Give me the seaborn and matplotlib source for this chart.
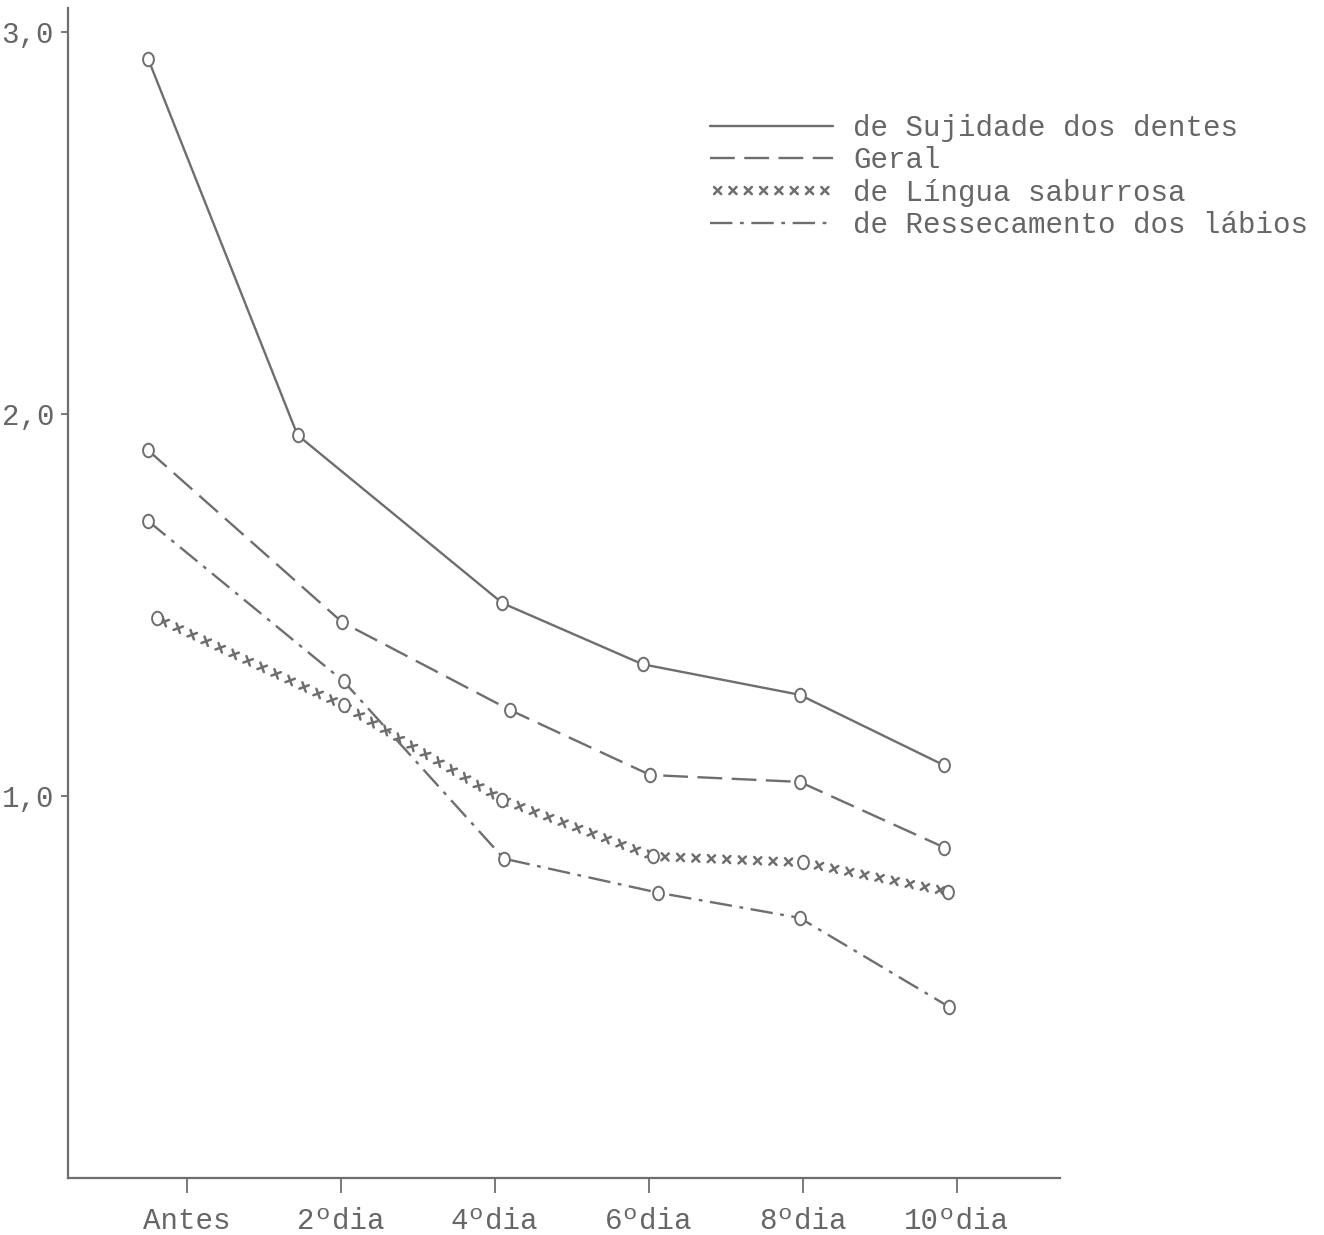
import matplotlib
matplotlib.use("Agg")
import matplotlib.pyplot as plt
import matplotlib.patheffects as pe
from matplotlib.path import Path
import numpy as np
import seaborn as sns

# ---------------- data ----------------
categories = ["Antes", "2ºdia", "4ºdia", "6ºdia", "8ºdia", "10ºdia"]
tick_pos = [0, 1, 2, 3, 4, 5]

x_sujidade = [-0.25, 0.72, 2.05, 2.96, 3.98, 4.92]
y_sujidade = [2.93, 1.945, 1.505, 1.345, 1.265, 1.08]

x_geral = [-0.25, 1.01, 2.10, 3.01, 3.98, 4.92]
y_geral = [1.905, 1.455, 1.225, 1.055, 1.037, 0.865]

x_lingua = [-0.19, 1.02, 2.05, 3.03, 4.00, 4.94]
y_lingua = [1.465, 1.237, 0.99, 0.842, 0.826, 0.75]

x_labios = [-0.25, 1.02, 2.06, 3.06, 3.98, 4.95]
y_labios = [1.72, 1.30, 0.836, 0.747, 0.681, 0.448]

series_labels = ["de Sujidade dos dentes", "Geral",
                 "de Língua saburrosa", "de Ressecamento dos lábios"]

yticks = [1, 2, 3]
ytick_labels = ["1,0", "2,0", "3,0"]

# ---------------- style ----------------
sns.set_style("ticks")
plt.rcParams["font.family"] = ["Liberation Mono", "DejaVu Sans Mono"]
GREY = "#6e6e6e"
TXT = "#666666"
FS = 21

fig = plt.figure(figsize=(13.24, 12.35), dpi=100)
ax = fig.add_axes([68 / 1324, 1 - 1178 / 1235, (1060 - 68) / 1324, (1178 - 8) / 1235])

LW = 1.7

# Sujidade (solid)
sns.lineplot(x=x_sujidade, y=y_sujidade, sort=False, estimator=None, ax=ax,
             color=GREY, linewidth=LW, linestyle="-", label=series_labels[0])
# Geral (dashed)
sns.lineplot(x=x_geral, y=y_geral, sort=False, estimator=None, ax=ax,
             color=GREY, linewidth=LW, linestyle=(0, (10.5, 4)), label=series_labels[1])
# Lingua (crosses along path)
cross = [pe.TickedStroke(spacing=11, angle=a, length=0.33) for a in (45, 135, -45, -135)]
sns.lineplot(x=x_lingua, y=y_lingua, sort=False, estimator=None, ax=ax,
             color=GREY, linewidth=1.8, linestyle="-", label=series_labels[2],
             path_effects=cross)
# Labios (dash-dot)
sns.lineplot(x=x_labios, y=y_labios, sort=False, estimator=None, ax=ax,
             color=GREY, linewidth=LW, linestyle=(0, (9.5, 3.2, 1.6, 3.2)),
             label=series_labels[3])

# typewriter "O" point markers (slightly tall ellipse)
uc = Path.unit_circle()
o_marker = Path(uc.vertices * np.array([0.8, 1.0]), uc.codes)
for xs, ys in [(x_sujidade, y_sujidade), (x_geral, y_geral),
               (x_lingua, y_lingua), (x_labios, y_labios)]:
    sns.scatterplot(x=xs, y=ys, ax=ax, marker=o_marker, s=95,
                    facecolor="white", edgecolor=GREY, linewidth=1.4,
                    zorder=5, legend=False)

# ---------------- axes ----------------
ax.set_xlim(-0.77, 5.67)
ax.set_ylim(0, 3.063)
ax.set_xticks(tick_pos)
ax.set_xticklabels(categories, fontsize=FS, color=TXT)
ax.set_yticks(yticks)
ax.set_yticklabels(ytick_labels, fontsize=FS, color=TXT)
ax.tick_params(axis="x", direction="out", length=11, width=1.3, color=GREY, pad=10)
ax.tick_params(axis="y", direction="out", length=5, width=1.3, color=GREY, pad=5)
sns.despine(ax=ax, top=True, right=True)
for s in ("left", "bottom"):
    ax.spines[s].set_color(GREY)
    ax.spines[s].set_linewidth(1.6)
ax.set_xlabel("")
ax.set_ylabel("")

leg = ax.legend(loc="upper left", bbox_to_anchor=(710 / 1324, 1 - 114 / 1235),
                bbox_transform=fig.transFigure, frameon=False, fontsize=FS,
                handlelength=4.2, handletextpad=0.7, labelspacing=0.15,
                borderpad=0, borderaxespad=0)
for t in leg.get_texts():
    t.set_color(TXT)

fig.savefig("out.png", dpi=100)
